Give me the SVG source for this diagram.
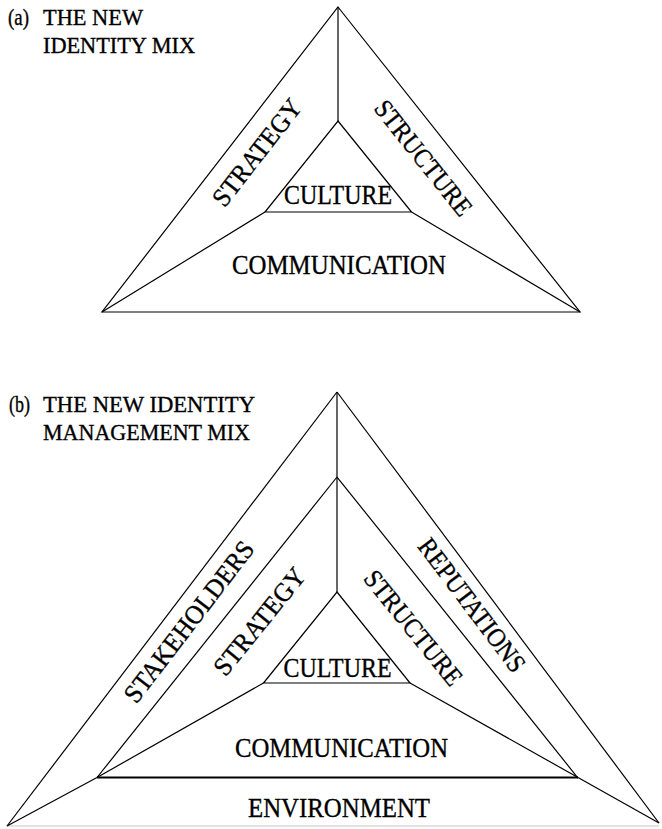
<svg xmlns="http://www.w3.org/2000/svg" width="662" height="829" viewBox="0 0 662 829">
<style>
  .ln { stroke: #000; stroke-width: 1.2; fill: none; stroke-linejoin: miter; }
  .thick { stroke-width: 2; }
  .faint { stroke: #d8d8d8; stroke-width: 1.5; }
  .t { font-family: "Liberation Serif", "Times New Roman", serif; fill: #000; stroke: #000; stroke-width: 0.35; }
  .title { font-size: 23px; }
  .lbl { font-size: 26.5px; text-anchor: middle; }
</style>
<rect width="662" height="829" fill="#fff"/>

<!-- Titles -->
<g id="title-a">
  <text class="t title" x="8" y="25" textLength="21" lengthAdjust="spacingAndGlyphs">(a)</text>
  <text class="t title" x="43" y="25" textLength="100" lengthAdjust="spacingAndGlyphs">THE NEW</text>
  <text class="t title" x="43" y="53" textLength="152" lengthAdjust="spacingAndGlyphs">IDENTITY MIX</text>
</g>
<g id="title-b">
  <text class="t title" x="9" y="412" textLength="21" lengthAdjust="spacingAndGlyphs">(b)</text>
  <text class="t title" x="43" y="412" textLength="212" lengthAdjust="spacingAndGlyphs">THE NEW IDENTITY</text>
  <text class="t title" x="43" y="440" textLength="207" lengthAdjust="spacingAndGlyphs">MANAGEMENT MIX</text>
</g>

<!-- Connectors / lines -->
<g id="connectors">
  <!-- Panel (a) -->
  <polygon class="ln" points="338,7 580,312 102,312"/>
  <line class="ln" x1="338" y1="7" x2="338" y2="121"/>
  <polygon class="ln" points="338,121 411.5,212 265,212"/>
  <line class="ln" x1="265" y1="212" x2="102" y2="312"/>
  <line class="ln" x1="411.5" y1="212" x2="580" y2="312"/>

  <!-- Panel (b) -->
  <line class="ln" x1="337" y1="392" x2="7" y2="826"/>
  <line class="ln" x1="337" y1="392" x2="659" y2="823"/>
  <line class="ln faint" x1="7" y1="826" x2="659" y2="826"/>
  <line class="ln" x1="337" y1="392" x2="337" y2="592"/>
  <line class="ln" x1="337" y1="477" x2="97" y2="777.5"/>
  <line class="ln" x1="337" y1="477" x2="578" y2="778"/>
  <line class="ln thick" x1="97" y1="777.5" x2="578" y2="777.5"/>
  <polygon class="ln" points="337,592 410,683 263.5,683"/>
  <line class="ln" x1="263.5" y1="683" x2="97" y2="777.5"/>
  <line class="ln" x1="410" y1="683" x2="578" y2="777.5"/>
  <line class="ln" x1="97" y1="777.5" x2="7" y2="826"/>
  <line class="ln" x1="578" y1="777.5" x2="659" y2="823"/>
</g>

<!-- Panel (a) regions -->
<g id="a-strategy">
  <text class="t lbl" transform="translate(264,158) rotate(-52)" textLength="128" lengthAdjust="spacingAndGlyphs">STRATEGY</text>
</g>
<g id="a-structure">
  <text class="t lbl" transform="translate(416.5,163.5) rotate(51.5)" textLength="140" lengthAdjust="spacingAndGlyphs">STRUCTURE</text>
</g>
<g id="a-culture">
  <text class="t lbl" x="338" y="204" textLength="108" lengthAdjust="spacingAndGlyphs">CULTURE</text>
</g>
<g id="a-communication">
  <text class="t lbl" x="339" y="274" textLength="214" lengthAdjust="spacingAndGlyphs">COMMUNICATION</text>
</g>

<!-- Panel (b) regions -->
<g id="b-stakeholders">
  <text class="t lbl" transform="translate(196,627) rotate(-52.5)" textLength="196" lengthAdjust="spacingAndGlyphs">STAKEHOLDERS</text>
</g>
<g id="b-strategy">
  <text class="t lbl" transform="translate(266.5,627) rotate(-51)" textLength="130" lengthAdjust="spacingAndGlyphs">STRATEGY</text>
</g>
<g id="b-reputations">
  <text class="t lbl" transform="translate(465,610.5) rotate(53)" textLength="160" lengthAdjust="spacingAndGlyphs">REPUTATIONS</text>
</g>
<g id="b-structure">
  <text class="t lbl" transform="translate(406.5,633.5) rotate(51)" textLength="140" lengthAdjust="spacingAndGlyphs">STRUCTURE</text>
</g>
<g id="b-culture">
  <text class="t lbl" x="337.5" y="677" textLength="108" lengthAdjust="spacingAndGlyphs">CULTURE</text>
</g>
<g id="b-communication">
  <text class="t lbl" x="341.5" y="757" textLength="213" lengthAdjust="spacingAndGlyphs">COMMUNICATION</text>
</g>
<g id="b-environment">
  <text class="t lbl" x="339" y="817" textLength="182" lengthAdjust="spacingAndGlyphs">ENVIRONMENT</text>
</g>
</svg>
